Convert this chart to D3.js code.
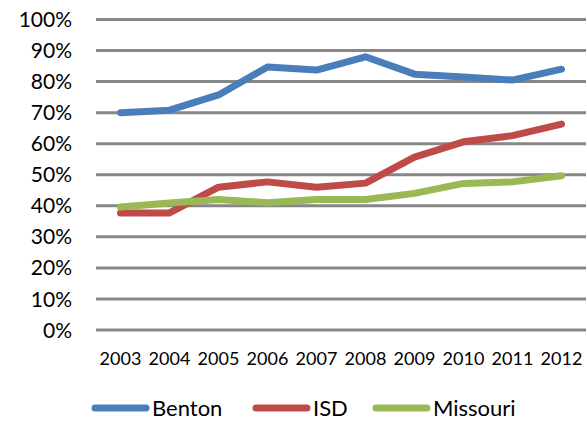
<!DOCTYPE html>
<html>
<head>
<meta charset="utf-8">
<script src="https://cdn.jsdelivr.net/npm/d3@7"></script>
<style>
  body { margin: 0; background: #fff; }
  svg { display: block; font-family: Lato, "Open Sans", sans-serif; }
</style>
</head>
<body>
<div id="chart"></div>
<script>
var years = ["2003", "2004", "2005", "2006", "2007", "2008", "2009", "2010", "2011", "2012"];
var benton = [0.70, 0.708, 0.757, 0.847, 0.837, 0.88, 0.824, 0.815, 0.805, 0.84];
var isd = [0.377, 0.377, 0.46, 0.477, 0.46, 0.473, 0.557, 0.606, 0.626, 0.663];
var missouri = [0.396, 0.409, 0.42, 0.41, 0.42, 0.42, 0.44, 0.472, 0.477, 0.497];
var yTicks = [0, 0.1, 0.2, 0.3, 0.4, 0.5, 0.6, 0.7, 0.8, 0.9, 1.0];
var seriesNames = ["Benton", "ISD", "Missouri"];
var seriesColors = ["#4a7ebb", "#be4b48", "#98b954"];

var width = 587, height = 422;

const svg = d3.select("#chart").append("svg")
	.attr("width", width)
	.attr("height", height);

const x = d3.scaleBand()
	.domain(years)
	.range([96, 586]);

const y = d3.scaleLinear()
	.domain([0, 1])
	.range([330, 19.5]);

// gridlines
svg.append("g")
	.selectAll("line")
	.data(yTicks)
	.join("line")
	.attr("x1", 96)
	.attr("x2", 586)
	.attr("y1", d => y(d))
	.attr("y2", d => y(d))
	.attr("stroke", "#878787")
	.attr("stroke-width", 3);

// y labels
svg.append("g")
	.selectAll("text")
	.data(yTicks)
	.join("text")
	.attr("x", 72)
	.attr("y", d => y(d))
	.attr("dy", "0.36em")
	.attr("text-anchor", "end")
	.attr("font-size", 21)
	.attr("fill", "#000")
	.text(d3.format(".0%"));

// x labels
svg.append("g")
	.selectAll("text")
	.data(years)
	.join("text")
	.attr("x", d => x(d) + x.bandwidth() / 2)
	.attr("y", 365)
	.attr("text-anchor", "middle")
	.attr("font-size", 18)
	.attr("fill", "#000")
	.text(d => d);

const line = d3.line()
	.x((d, i) => x(years[i]) + x.bandwidth() / 2)
	.y(d => y(d));

const allSeries = [benton, isd, missouri];

svg.append("g")
	.selectAll("path")
	.data(allSeries)
	.join("path")
	.attr("d", d => line(d))
	.attr("fill", "none")
	.attr("stroke", (d, i) => seriesColors[i])
	.attr("stroke-width", 7)
	.attr("stroke-linejoin", "round")
	.attr("stroke-linecap", "round");

// legend
var legendX = [95, 256, 376];
const legend = svg.append("g")
	.selectAll("g")
	.data(seriesNames)
	.join("g")
	.attr("transform", (d, i) => "translate(" + legendX[i] + ",408)");

legend.append("line")
	.attr("x1", 0)
	.attr("x2", 51)
	.attr("stroke", (d, i) => seriesColors[i])
	.attr("stroke-width", 7)
	.attr("stroke-linecap", "round");

legend.append("text")
	.attr("x", 57)
	.attr("y", 8)
	.attr("font-size", 22)
	.attr("fill", "#000")
	.text(d => d);
</script>
</body>
</html>
